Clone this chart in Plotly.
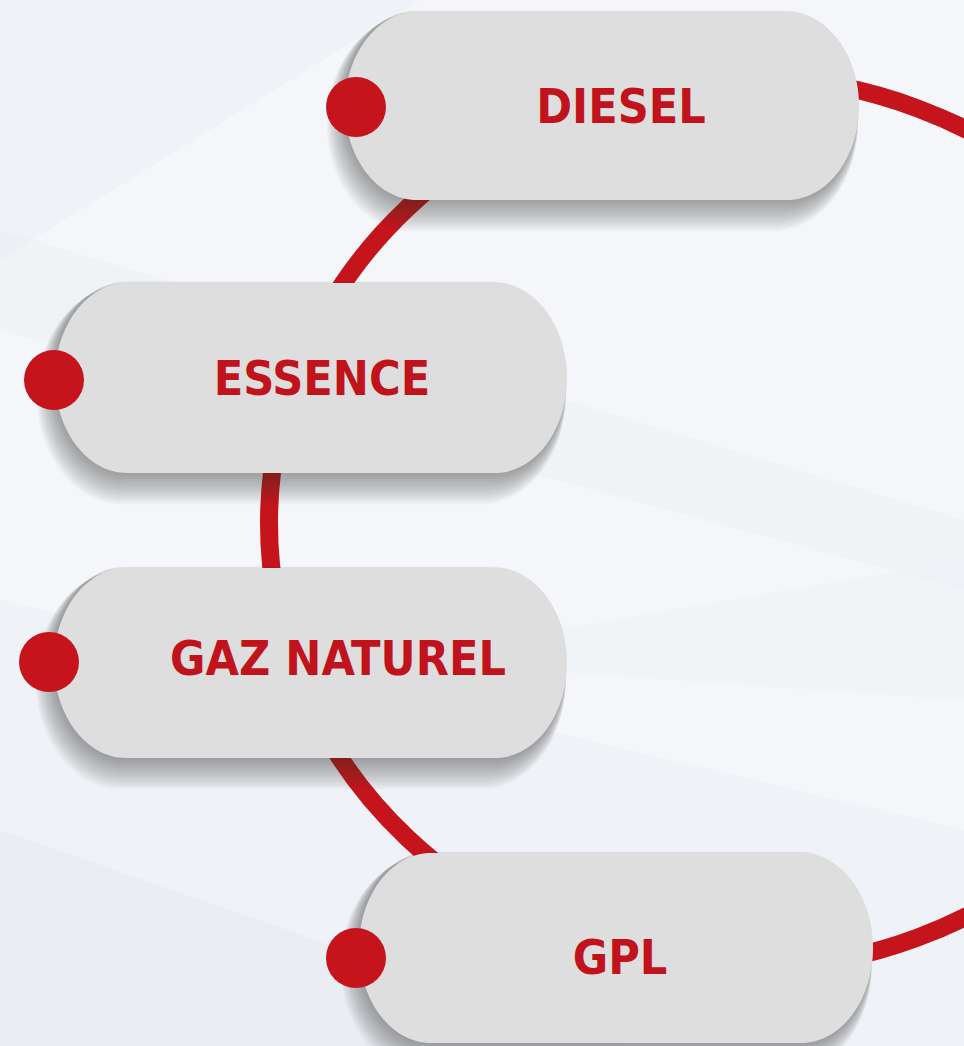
import plotly.graph_objects as go

# ---- content ----
categories = ["DIESEL", "ESSENCE", "GAZ NATUREL", "GPL"]

# ---- layout constants (pixel space) ----
W, H = 964, 1046
pill_boxes = [(345, 12, 859, 200), (55, 283, 567, 473), (54, 568, 567, 758), (359, 853, 873, 1043)]
dot_xy = [(356, 107), (54, 380), (49, 662), (356, 958)]
text_xy = [(621, 111), (322, 383), (338, 663), (620, 962)]
ring = dict(cx=743, cy=523, rx=474, ry=446)

RED = "#c5141c"
TEXT_RED = "#c0131b"
PILL = "#dedede"


def pill_path(x0, y0, x1, y1, rx):
    ry = (y1 - y0) / 2.0
    k = 0.5523
    p = []
    p.append(f"M {x0+rx},{y0}")
    p.append(f"L {x1-rx},{y0}")
    p.append(f"C {x1-rx+k*rx},{y0} {x1},{y0+ry-k*ry} {x1},{y0+ry}")
    p.append(f"C {x1},{y0+ry+k*ry} {x1-rx+k*rx},{y1} {x1-rx},{y1}")
    p.append(f"L {x0+rx},{y1}")
    p.append(f"C {x0+rx-k*rx},{y1} {x0},{y1-ry+k*ry} {x0},{y0+ry}")
    p.append(f"C {x0},{y0+ry-k*ry} {x0+rx-k*rx},{y0} {x0+rx},{y0}")
    p.append("Z")
    return " ".join(p)


shapes = []

# background soft diagonal bands
bands = [
    ([(0, 0), (420, 0), (0, 260)], "rgba(215,222,230,0.16)"),
    ([(0, 230), (964, 520), (964, 590), (0, 330)], "rgba(220,227,235,0.14)"),
    ([(0, 600), (964, 830), (964, 1046), (0, 1046)], "rgba(215,222,232,0.14)"),
    ([(0, 830), (620, 1046), (0, 1046)], "rgba(210,218,228,0.16)"),
    ([(380, 660), (964, 560), (964, 700)], "rgba(225,231,238,0.14)"),
]
for pts, col in bands:
    path = "M " + " L ".join(f"{x},{y}" for x, y in pts) + " Z"
    shapes.append(dict(type="path", path=path, xref="x", yref="y", fillcolor=col,
                       line=dict(width=0), layer="below"))

# ring
shapes.append(dict(type="circle", xref="x", yref="y",
                   x0=ring["cx"] - ring["rx"], x1=ring["cx"] + ring["rx"],
                   y0=ring["cy"] - ring["ry"], y1=ring["cy"] + ring["ry"],
                   line=dict(color=RED, width=18), fillcolor="rgba(0,0,0,0)", layer="below"))

# shadows + pills
for (x0, y0, x1, y1) in pill_boxes:
    for i in range(15):
        e = 0.5 + i * 0.9
        dy = 2 + i * 2.1
        dx = -1 - i * 0.3
        shapes.append(dict(type="path", xref="x", yref="y",
                           path=pill_path(x0 - e + dx, y0 + dy * 0.2 - 2, x1 + e * 0.3 + dx, y1 + dy, 72 + e),
                           fillcolor="rgba(50,50,55,0.035)", line=dict(width=0), layer="below"))
    shapes.append(dict(type="path", xref="x", yref="y", path=pill_path(x0, y0, x1, y1, 72),
                       fillcolor=PILL, line=dict(width=0), layer="below"))

fig = go.Figure()

fig.add_trace(go.Scatter(
    x=[p[0] for p in dot_xy], y=[p[1] for p in dot_xy], mode="markers",
    marker=dict(size=60, color=RED, line=dict(width=0)), hoverinfo="skip", showlegend=False))

fig.add_trace(go.Scatter(
    x=[p[0] for p in text_xy], y=[p[1] for p in text_xy], mode="text", text=categories,
    textposition="middle center",
    textfont=dict(family="DejaVu Sans Condensed, Liberation Sans Narrow, Arial Narrow, sans-serif",
                  size=48, color=TEXT_RED, weight="bold"),
    hoverinfo="skip", showlegend=False))

fig.update_layout(
    width=W, height=H, margin=dict(l=0, r=0, t=0, b=0),
    paper_bgcolor="#f4f6f9", plot_bgcolor="#f4f6f9",
    xaxis=dict(range=[0, W], visible=False, fixedrange=True),
    yaxis=dict(range=[H, 0], visible=False, fixedrange=True),
    shapes=shapes, showlegend=False,
)

fig.write_html("out.html", config={"displayModeBar": False},
               post_script="document.body.style.margin='0';document.body.style.padding='0';document.body.style.overflow='hidden';")
